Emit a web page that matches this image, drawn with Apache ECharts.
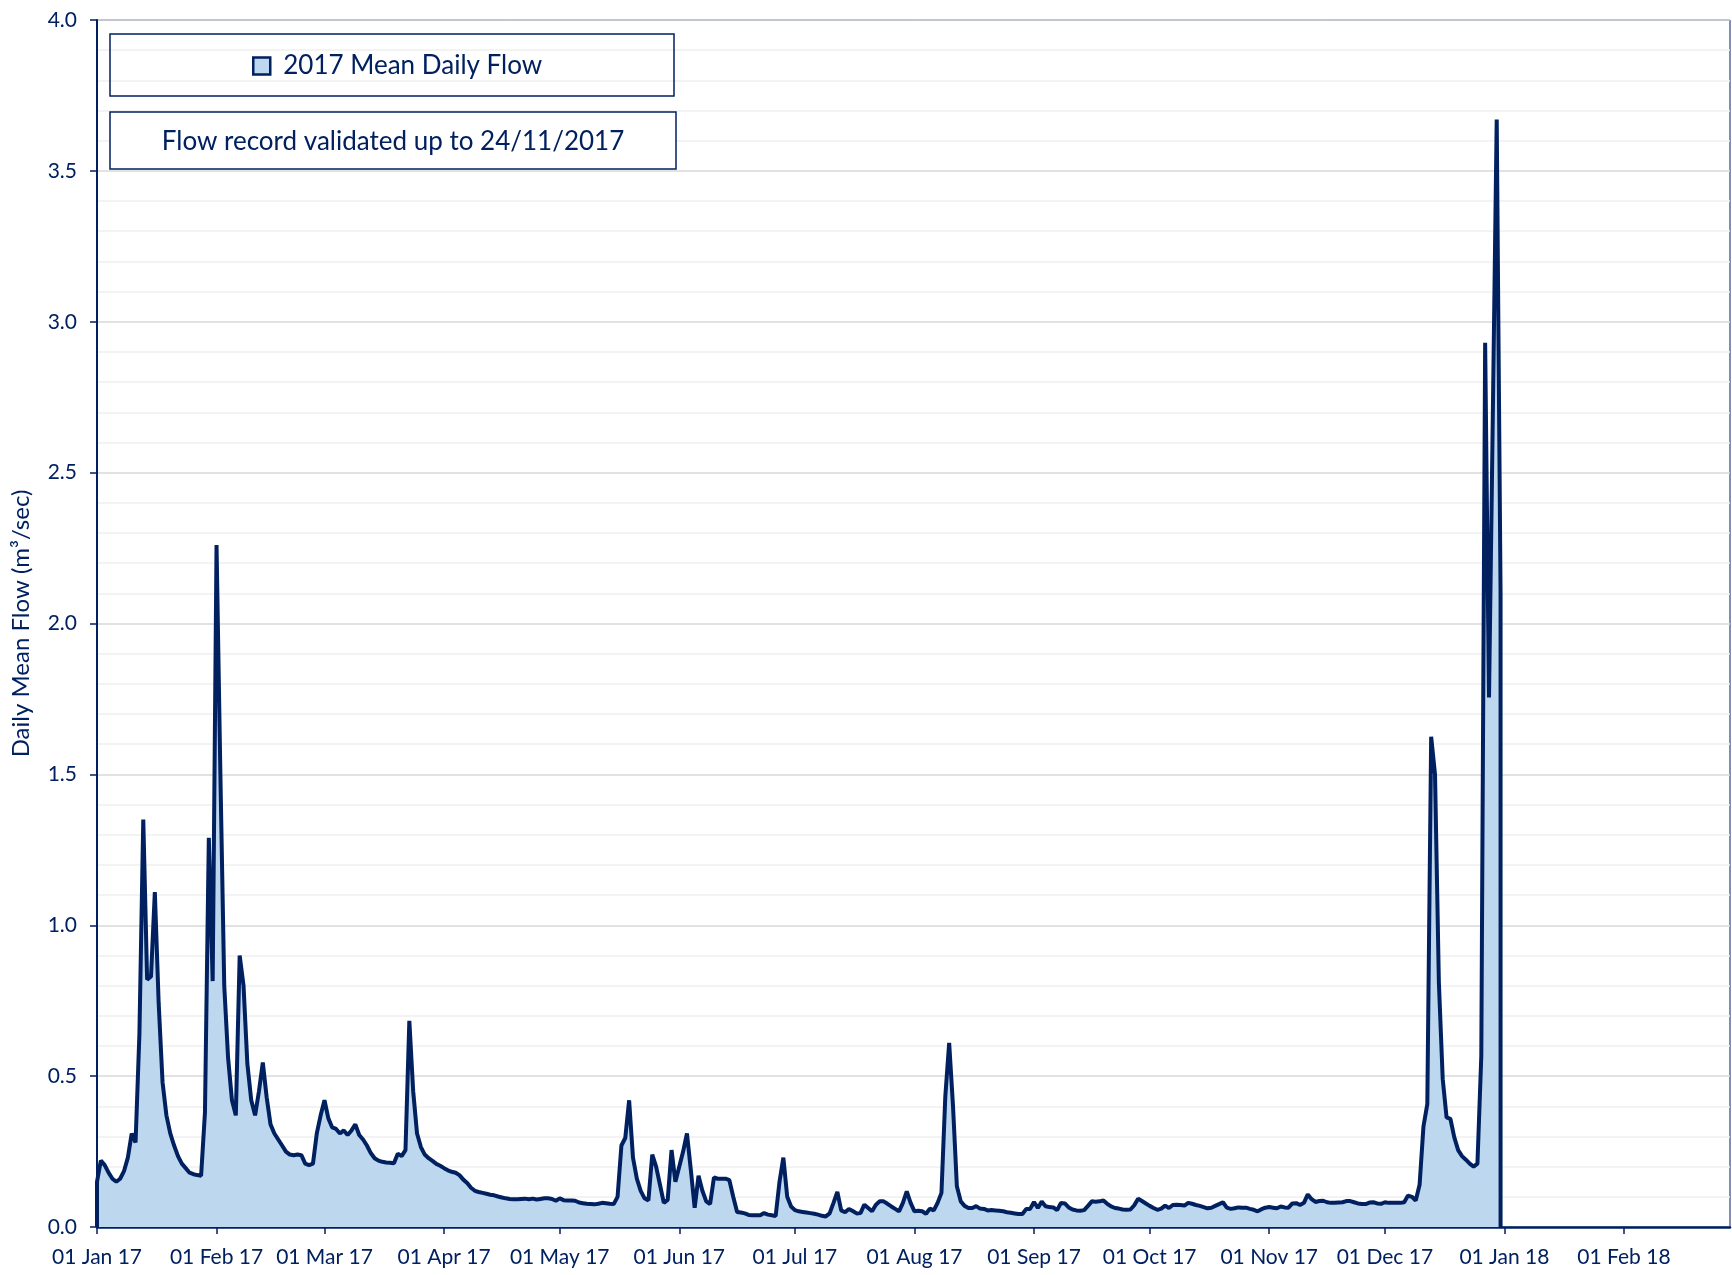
<!DOCTYPE html>
<html>
<head>
<meta charset="utf-8">
<title>2017 Mean Daily Flow</title>
<script src="https://cdn.jsdelivr.net/npm/echarts@6/dist/echarts.min.js"></script>
<style>
  html, body { margin: 0; padding: 0; background: #fff; }
  #chart { width: 1732px; height: 1275px; }
</style>
</head>
<body>
<div id="chart"></div>
<script>
// daily mean flow 2017 (m3/sec), one array per month
const jan = [0.15, 0.22, 0.205, 0.18, 0.16, 0.15, 0.16, 0.185, 0.23, 0.31, 0.28, 0.64, 1.35, 0.82, 0.83, 1.11,
  0.74, 0.48, 0.37, 0.31, 0.27, 0.235, 0.21, 0.195, 0.18, 0.175, 0.172, 0.17, 0.38, 1.29, 0.815]
const feb = [2.26, 1.5, 0.8, 0.56, 0.42, 0.37, 0.9, 0.8, 0.54, 0.42, 0.37, 0.45, 0.545, 0.43, 0.34, 0.31,
  0.29, 0.27, 0.25, 0.24, 0.238, 0.24, 0.238, 0.21, 0.205, 0.21, 0.31, 0.37]
const mar = [0.42, 0.36, 0.33, 0.325, 0.31, 0.32, 0.305, 0.32, 0.34, 0.305, 0.29, 0.27, 0.245, 0.228, 0.22, 0.216,
  0.214, 0.213, 0.211, 0.243, 0.235, 0.255, 0.683, 0.45, 0.31, 0.265, 0.24, 0.228, 0.219, 0.209, 0.203]
const apr = [0.195, 0.188, 0.183, 0.18, 0.172, 0.157, 0.146, 0.13, 0.12, 0.116, 0.113, 0.11, 0.107, 0.105, 0.101,
  0.098, 0.095, 0.093, 0.092, 0.092, 0.093, 0.094, 0.092, 0.094, 0.091, 0.093, 0.095, 0.095, 0.093, 0.087]
const may = [0.095, 0.089, 0.088, 0.088, 0.087, 0.081, 0.079, 0.077, 0.076, 0.075, 0.077, 0.08, 0.079, 0.077, 0.076,
  0.1, 0.27, 0.295, 0.42, 0.23, 0.16, 0.12, 0.095, 0.088, 0.24, 0.2, 0.14, 0.08, 0.09, 0.255, 0.15]
const jun = [0.2, 0.25, 0.31, 0.19, 0.064, 0.17, 0.12, 0.085, 0.076, 0.164, 0.16, 0.16, 0.16, 0.155, 0.1,
  0.05, 0.048, 0.045, 0.04, 0.039, 0.039, 0.039, 0.046, 0.041, 0.039, 0.036, 0.15, 0.23, 0.1, 0.068]
const jul = [0.056, 0.052, 0.05, 0.048, 0.046, 0.044, 0.041, 0.037, 0.035, 0.045, 0.08, 0.116, 0.055, 0.049, 0.06,
  0.053, 0.045, 0.046, 0.074, 0.063, 0.052, 0.074, 0.085, 0.085, 0.077, 0.068, 0.06, 0.052, 0.08, 0.118, 0.08]
const aug = [0.052, 0.054, 0.052, 0.044, 0.061, 0.055, 0.08, 0.113, 0.433, 0.61, 0.4, 0.135, 0.085, 0.07, 0.063,
  0.063, 0.069, 0.061, 0.06, 0.055, 0.056, 0.055, 0.054, 0.052, 0.049, 0.047, 0.045, 0.043, 0.043, 0.06, 0.06]
const sep = [0.083, 0.063, 0.084, 0.069, 0.066, 0.065, 0.056, 0.08, 0.078, 0.065, 0.058, 0.055, 0.054, 0.056, 0.07,
  0.085, 0.084, 0.085, 0.088, 0.077, 0.068, 0.063, 0.061, 0.058, 0.057, 0.058, 0.072, 0.094, 0.086, 0.078]
const oct = [0.07, 0.063, 0.057, 0.061, 0.071, 0.063, 0.073, 0.074, 0.073, 0.071, 0.08, 0.077, 0.073, 0.07, 0.066,
  0.062, 0.064, 0.07, 0.076, 0.082, 0.064, 0.06, 0.062, 0.065, 0.064, 0.064, 0.06, 0.057, 0.052, 0.059, 0.064]
const nov = [0.066, 0.064, 0.062, 0.068, 0.065, 0.064, 0.078, 0.079, 0.073, 0.08, 0.108, 0.092, 0.083, 0.086, 0.087,
  0.082, 0.08, 0.08, 0.081, 0.082, 0.086, 0.086, 0.082, 0.078, 0.076, 0.076, 0.081, 0.082, 0.078, 0.077]
const dec = [0.082, 0.08, 0.08, 0.08, 0.08, 0.082, 0.104, 0.1, 0.088, 0.14, 0.333, 0.407, 1.625, 1.5, 0.81,
  0.49, 0.363, 0.358, 0.297, 0.255, 0.235, 0.223, 0.21, 0.2, 0.21, 0.566, 2.93, 1.755, 2.7, 3.67, 2.1]

// x axis: days since 01 Jan 17
const tickDays = [0, 31, 59, 90, 120, 151, 181, 212, 243, 273, 304, 334, 365, 396]
const tickLabels = ['01 Jan 17', '01 Feb 17', '01 Mar 17', '01 Apr 17', '01 May 17', '01 Jun 17', '01 Jul 17',
  '01 Aug 17', '01 Sep 17', '01 Oct 17', '01 Nov 17', '01 Dec 17', '01 Jan 18', '01 Feb 18']
const yTicks = [0, 0.5, 1, 1.5, 2, 2.5, 3, 3.5, 4]

const seriesName = '2017 Mean Daily Flow'
const noteText = 'Flow record validated up to 24/11/2017'

const flow = [].concat(jan, feb, mar, apr, may, jun, jul, aug, sep, oct, nov, dec)

const NAVY = '#002060'
const FILL = '#bdd7ee'
const FONT = 'Lato'

// area outline in Excel also closes down to the baseline at both ends
const lastDay = flow.length - 1
const seriesData = [[0, 0]]
  .concat(flow.map((v, i) => [i, v]))
  .concat([[lastDay, 0]])

const chart = echarts.init(document.getElementById('chart'))

chart.setOption({
  animation: false,
  backgroundColor: '#fff',
  textStyle: { fontFamily: FONT, color: NAVY },
  grid: {
    left: 97,
    right: 2,
    top: 20,
    bottom: 48,
    show: true,
    borderColor: NAVY,
    borderWidth: 1
  },
  legend: {
    left: 247,
    top: 48,
    icon: 'rect',
    itemWidth: 17,
    itemHeight: 17,
    textStyle: { fontFamily: FONT, fontSize: 26, color: NAVY, padding: [0, 0, 0, 8] },
    data: [{
      name: seriesName,
      itemStyle: { color: FILL, borderColor: NAVY, borderWidth: 2.5 }
    }]
  },
  graphic: [
    {
      type: 'rect',
      shape: { x: 110, y: 34, width: 564, height: 62 },
      style: { fill: 'transparent', stroke: NAVY, lineWidth: 1.5 },
      z: 100
    },
    {
      type: 'rect',
      shape: { x: 110, y: 112, width: 566, height: 57 },
      style: { fill: '#fff', stroke: NAVY, lineWidth: 1.5 },
      z: 100
    },
    {
      type: 'text',
      x: 393,
      y: 142,
      style: {
        text: noteText,
        fontFamily: FONT,
        fontSize: 26,
        fill: NAVY,
        align: 'center',
        verticalAlign: 'middle'
      },
      z: 101
    }
  ],
  xAxis: {
    type: 'value',
    min: 0,
    max: 423.5,
    axisLine: { show: true, onZero: false, lineStyle: { color: NAVY, width: 2.5 } },
    axisTick: {
      show: true,
      length: 7,
      customValues: tickDays,
      lineStyle: { color: NAVY, width: 1.5 }
    },
    axisLabel: {
      customValues: tickDays,
      margin: 20,
      fontFamily: FONT,
      fontSize: 21,
      color: NAVY,
      formatter: (val) => tickLabels[tickDays.indexOf(val)] || ''
    },
    splitLine: { show: false }
  },
  yAxis: {
    type: 'value',
    min: 0,
    max: 4,
    interval: 0.5,
    name: 'Daily Mean Flow (m³/sec)',
    nameLocation: 'middle',
    nameGap: 64,
    nameTextStyle: { fontFamily: FONT, fontSize: 24, color: NAVY },
    axisLine: { show: true, lineStyle: { color: NAVY, width: 2 } },
    axisTick: { show: true, length: 7, customValues: yTicks, lineStyle: { color: NAVY, width: 1.5 } },
    axisLabel: {
      margin: 20,
      fontFamily: FONT,
      fontSize: 21,
      color: NAVY,
      formatter: (v) => v.toFixed(1)
    },
    splitLine: { show: true, lineStyle: { color: '#d9d9d9', width: 1.5 } },
    minorTick: { show: false, splitNumber: 5 },
    minorSplitLine: { show: true, lineStyle: { color: '#f0f0f0', width: 1.5 } }
  },
  series: [
    {
      name: seriesName,
      type: 'line',
      symbol: 'none',
      data: seriesData,
      lineStyle: { color: NAVY, width: 4 },
      itemStyle: { color: FILL, borderColor: NAVY },
      areaStyle: { color: FILL, opacity: 1 },
      z: 3
    }
  ]
})
</script>
</body>
</html>
